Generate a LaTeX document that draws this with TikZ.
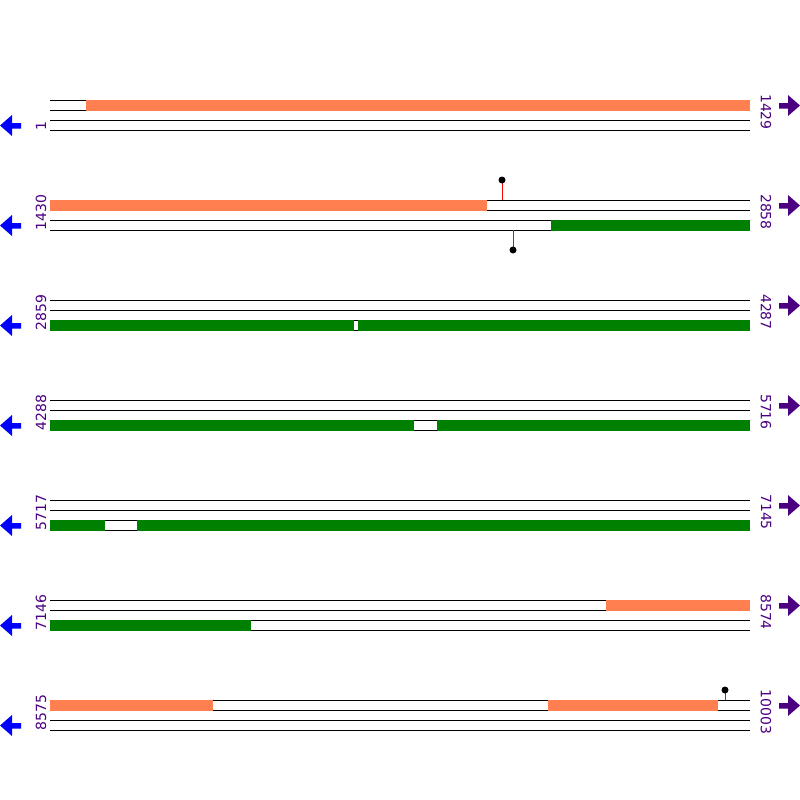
\documentclass[tikz,border=0pt]{standalone}
\usepackage{fontspec}
\setmainfont{DejaVu Sans}
\definecolor{fwdc}{HTML}{FF7F50}
\definecolor{revc}{HTML}{008000}
\definecolor{labc}{HTML}{4B0082}
\begin{document}
\begin{tikzpicture}[x=1pt,y=-1pt,
  trackline/.style={black,line width=1pt},
  fwdbar/.style={fill=fwdc,draw=none},
  revbar/.style={fill=revc,draw=none},
  leftlab/.style={rotate=90,anchor=west,text=labc,font=\fontsize{14}{14}\selectfont,inner sep=0pt},
  rightlab/.style={rotate=-90,anchor=center,text=labc,font=\fontsize{14}{14}\selectfont,inner sep=0pt},
  lolly/.style={red,line width=1pt},
  lolldot/.style={fill=black}]
\useasboundingbox (0,0) rectangle (800,800);
\foreach \a/\b [count=\i from 0] in {1/1429,1430/2858,2859/4287,4288/5716,5717/7145,7146/8574,8575/10003}{
  \pgfmathsetmacro\y{100+100*\i}
  \foreach \d in {0,10,20,30}{\draw[trackline] (50,\y+\d) -- (750,\y+\d);}
  \node[leftlab] (l\i) at (41,\y+30.5) {\a};
  \node[rightlab] (r\i) at (766,\y+12) {\b};
  \fill[blue] (0,\y+25.5) -- (12,\y+15) -- (12,\y+23) -- (21,\y+23) -- (21,\y+28.5) -- (12,\y+28.5) -- (12,\y+36) -- cycle;
  \fill[labc] (800,\y+5.5) -- (788,\y-5) -- (788,\y+3) -- (779,\y+3) -- (779,\y+8.5) -- (788,\y+8.5) -- (788,\y+16) -- cycle;
}
% row 1
\fill[fwdbar] (86,100) rectangle (750,111);
% row 2
\fill[fwdbar] (50,200) rectangle (487,211);
\fill[revbar] (551,220) rectangle (750,231);
% row 3
\fill[revbar] (50,320) rectangle (354,331);
\fill[revbar] (358,320) rectangle (750,331);
% row 4
\fill[revbar] (50,420) rectangle (414,431);
\fill[revbar] (437,420) rectangle (750,431);
% row 5
\fill[revbar] (50,520) rectangle (105,531);
\fill[revbar] (137,520) rectangle (750,531);
% row 6
\fill[fwdbar] (606,600) rectangle (750,611);
\fill[revbar] (50,620) rectangle (251,631);
% row 7
\fill[fwdbar] (50,700) rectangle (213,711);
\fill[fwdbar] (548,700) rectangle (718,711);
% lollipops
\draw[lolly] (502,200) -- (502,180);
\fill[lolldot] (502,180) circle (3.5);
\draw[lolly] (513,230) -- (513,250);
\fill[lolldot] (513,250) circle (3.5);
\draw[lolly] (725,700) -- (725,690);
\fill[lolldot] (725,690) circle (3.5);
\end{tikzpicture}
\end{document}
